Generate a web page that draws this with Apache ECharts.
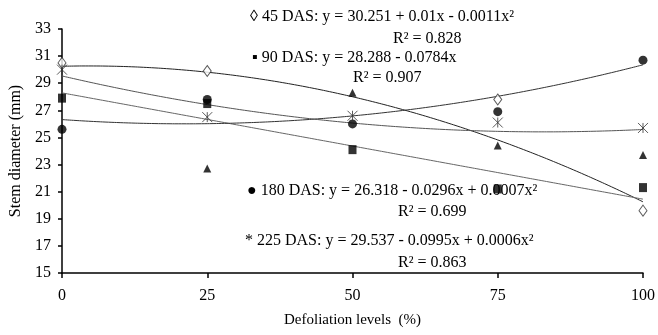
<!DOCTYPE html>
<html>
<head>
<meta charset="utf-8">
<script src="https://cdn.jsdelivr.net/npm/echarts@6/dist/echarts.min.js"></script>
<style>
  html, body { margin: 0; padding: 0; background: #fff; }
  #chart { width: 658px; height: 335px; }
</style>
</head>
<body>
<div id="chart"></div>
<script>
// defoliation levels (%)
var levels = [0, 25, 50, 75, 100];

// stem diameter (mm), one array per evaluation date
// (45 DAS at 50% sits under the triangle and cannot be seen)
var das45 = [30.5, 29.9, null, 27.8, 19.6];
var das90 = [27.9, 27.5, 24.1, 21.2, 21.3];
var das135 = [null, 22.7, 28.3, 24.4, 23.7];
var das180 = [25.6, 27.8, 26.0, 26.9, 30.7];
var das225 = [30.0, 26.5, 26.6, 26.1, 25.7];

// regression coefficients printed on the figure: a + b*x + c*x^2
var fit45 = [30.251, 0.01, -0.0011];
var fit90 = [28.288, -0.0784, 0];
var fit180 = [26.318, -0.0296, 0.0007];
var fit225 = [29.537, -0.0995, 0.0006];

var eq45 = '◊ 45 DAS: y = 30.251 + 0.01x - 0.0011x²';
var eq90 = '▪ 90 DAS: y = 28.288 - 0.0784x';
var eq180 = '● 180 DAS: y = 26.318 - 0.0296x + 0.0007x²';
var eq225 = '* 225 DAS: y = 29.537 - 0.0995x + 0.0006x²';
var r2 = ['R² = 0.828', 'R² = 0.907', 'R² = 0.699', 'R² = 0.863'];

function pairs(vals) {
  return levels.map(function (x, i) { return [x, vals[i]]; });
}
function curve(c) {
  var pts = [];
  for (var x = 0; x <= 100; x += 2) {
    pts.push([x, c[0] + c[1] * x + c[2] * x * x]);
  }
  return pts;
}

var serif = '"Liberation Serif", "Times New Roman", serif';
var asterisk = 'path://M0 0L10 10M10 0L0 10M5 0L5 10';

function trend(c, col) {
  return {
    type: 'line', data: curve(c), showSymbol: false, smooth: true,
    lineStyle: { color: col, width: 1 }, silent: true, z: 1
  };
}
function label(txt, x, y) {
  return { type: 'text', left: x, top: y, style: { text: txt, font: '16px ' + serif, fill: '#000' } };
}

var chart = echarts.init(document.getElementById('chart'));
chart.setOption({
  animation: false,
  backgroundColor: '#fff',
  grid: { left: 62, right: 15, top: 29, bottom: 62, outerBoundsMode: 'none', containLabel: false },
  xAxis: {
    type: 'value', min: 0, max: 100, interval: 25,
    name: 'Defoliation levels  (%)', nameLocation: 'middle', nameGap: 40,
    nameTextStyle: { fontFamily: serif, fontSize: 15, color: '#000' },
    axisLine: { lineStyle: { color: '#000', width: 1.5 } },
    axisTick: { show: true, length: 5, inside: false, lineStyle: { color: '#000', width: 1.5 } },
    axisLabel: { fontFamily: serif, fontSize: 16, color: '#000', margin: 15 },
    splitLine: { show: false }
  },
  yAxis: {
    type: 'value', min: 15, max: 33, interval: 2,
    name: 'Stem diameter (mm)', nameLocation: 'middle', nameGap: 36,
    nameTextStyle: { fontFamily: serif, fontSize: 16, color: '#000' },
    axisLine: { show: true, lineStyle: { color: '#000', width: 1.5 } },
    axisTick: { show: true, length: 4, lineStyle: { color: '#000', width: 1.5 } },
    axisLabel: { fontFamily: serif, fontSize: 16, color: '#000', margin: 11 },
    splitLine: { show: false }
  },
  series: [
    trend(fit45, '#222'),
    trend(fit90, '#666'),
    trend(fit180, '#333'),
    trend(fit225, '#555'),
    {
      type: 'scatter', data: pairs(das45), symbol: 'diamond', symbolSize: [8, 11],
      itemStyle: { color: '#fff', borderColor: '#333', borderWidth: 1 }, z: 3
    },
    {
      type: 'scatter', data: pairs(das135), symbol: 'triangle', symbolSize: [8, 8],
      itemStyle: { color: '#000' }, z: 5
    },
    {
      type: 'scatter', data: pairs(das90), symbol: 'rect', symbolSize: [8, 9],
      itemStyle: { color: '#000' }, z: 4
    },
    {
      type: 'scatter', data: pairs(das180), symbol: 'circle', symbolSize: 9,
      itemStyle: { color: '#000' }, z: 3
    },
    {
      type: 'scatter', data: pairs(das225), symbol: asterisk, symbolSize: [10, 10],
      itemStyle: { color: 'transparent', borderColor: '#333', borderWidth: 1 }, z: 3
    }
  ],
  graphic: [
    label(eq45, 250, 9),
    label(r2[0], 393, 31),
    label(eq90, 252, 50),
    label(r2[1], 353, 70),
    label(eq180, 247, 183),
    label(r2[2], 398, 204),
    label(eq225, 245, 233),
    label(r2[3], 398, 255)
  ]
});
</script>
</body>
</html>
